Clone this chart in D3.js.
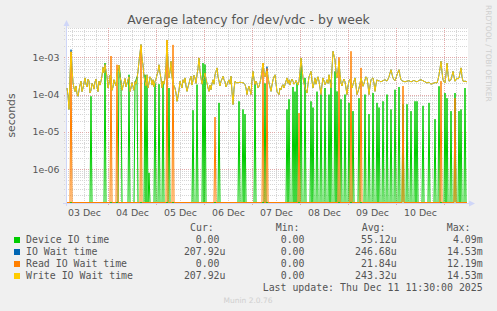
<!DOCTYPE html>
<html>
<head>
<meta charset="utf-8">
<script src="https://cdn.jsdelivr.net/npm/d3@7"></script>
<style>
  html, body { margin: 0; padding: 0; background: #f0f0f0; }
  svg { display: block; }
</style>
</head>
<body>
<svg id="chart" width="497" height="311"></svg>
<script>
// half-hourly averages in microseconds, 03 Dec 03:30 -> 11 Dec 11:30 (UTC), 401 samples
const deviceIO = [
  0, 0, 0, 0, 0, 0, 0, 0, 0, 0, 0, 0, 0, 0, 0, 0, 0, 0, 0, 0,
  0, 0, 0, 0, 90, 0, 0, 0, 0, 0, 0, 0, 0, 0, 0, 0, 0, 0, 700, 0,
  0, 0, 0, 0, 0, 0, 0, 0, 0, 0, 0, 0, 560, 380, 200, 0, 0, 0, 0, 0,
  0, 0, 340, 0, 0, 0, 0, 0, 200, 250, 300, 0, 0, 0, 0, 0, 0, 0, 340, 0,
  180, 0, 0.8, 0, 0, 0, 0, 0, 200, 0, 0, 0, 190, 0, 0, 0, 220, 0, 0, 0,
  0, 0, 150, 0, 0, 0, 0, 0, 0, 0, 0, 0, 0, 0, 0, 0, 0, 0, 0, 0,
  0, 0, 0, 0, 0, 0, 38, 0, 0, 0, 185, 0, 0, 0, 0, 0, 700, 0, 640, 0,
  0, 0, 0, 0, 0, 0, 0, 0, 0, 0, 0, 0, 60, 0, 0, 0, 0, 0, 0, 0,
  0, 0, 0, 0, 0, 0, 0, 0, 0, 0, 0, 0, 66, 0, 0, 0, 40, 0, 30, 0,
  0, 0, 0, 0, 0, 0, 0, 0, 200, 0, 0, 0, 0, 0, 0, 0, 0, 0, 200, 0,
  0, 0, 0, 0, 0, 0, 0, 0, 0, 0, 0, 0, 0, 0, 0, 0, 0, 0, 0, 0,
  40, 0, 75, 0, 0, 0, 160, 0, 120, 0, 200, 0, 0, 0, 700, 0, 0, 0, 280, 0,
  0, 0, 0, 0, 66, 0, 45, 0, 0, 0, 120, 0, 0, 0, 100, 0, 0, 0, 150, 0,
  0, 0, 100, 0, 250, 0, 0, 0, 420, 0, 122, 0, 0, 0, 75, 0, 0, 0, 100, 0,
  0, 0, 60, 0, 0, 0, 36, 0, 0, 0, 0, 0, 80, 0, 0, 0, 0, 0, 100, 0,
  0, 0, 30, 0, 0, 0, 110, 0, 0, 0, 60, 0, 45, 0, 0, 0, 66, 0, 0, 0,
  100, 0, 0, 0, 40, 0, 0, 0, 135, 0, 0, 0, 160, 0, 0, 0, 55, 0, 0, 0,
  55, 0, 0, 0, 36, 0, 0, 0, 66, 0, 66, 0, 0, 0, 0, 0, 50, 0, 0, 0,
  0, 0, 60, 0, 0, 0, 0, 0, 22, 0, 0, 0, 167, 0, 0, 0, 0, 0, 110, 0,
  80, 0, 0, 0, 36, 0, 0, 0, 110, 0, 0, 0, 36, 0, 40, 0, 0, 0, 150, 0,
  0
];

const ioWait = [
  150, 95, 40, 300, 1600, 520, 210, 150, 120, 170, 105, 90, 130, 180, 230, 120, 150, 210, 280, 190,
  160, 260, 230, 110, 130, 200, 180, 140, 220, 260, 160, 120, 230, 180, 230, 320, 540, 380, 640, 420,
  300, 150, 200, 330, 270, 130, 160, 250, 200, 170, 380, 450, 620, 300, 225, 130, 170, 210, 270, 160,
  200, 250, 300, 120, 150, 210, 165, 130, 225, 190, 270, 420, 780, 1300, 2200, 900, 630, 300, 225, 170,
  340, 150, 200, 300, 270, 180, 250, 160, 225, 260, 340, 420, 630, 380, 270, 150, 230, 190, 280, 600,
  2900, 700, 280, 420, 780, 300, 205, 170, 150, 110, 66, 90, 130, 230, 185, 150, 250, 210, 280, 170,
  122, 160, 200, 260, 310, 180, 240, 330, 280, 200, 340, 500, 960, 420, 280, 190, 250, 300, 380, 260,
  200, 150, 122, 180, 135, 200, 250, 190, 340, 420, 520, 300, 230, 170, 228, 260, 310, 250, 220, 160,
  185, 220, 250, 190, 310, 120, 54, 140, 228, 215, 205, 210, 210, 215, 213, 208, 210, 200, 185, 150,
  100, 140, 167, 130, 100, 250, 420, 260, 185, 230, 200, 150, 167, 210, 280, 450, 700, 420, 300, 380,
  560, 300, 205, 160, 122, 180, 250, 300, 340, 200, 120, 110, 100, 150, 135, 170, 185, 150, 185, 230,
  280, 200, 250, 180, 230, 260, 228, 190, 205, 240, 210, 180, 228, 400, 960, 500, 280, 200, 150, 130,
  110, 190, 300, 350, 420, 230, 150, 200, 280, 190, 250, 300, 228, 150, 100, 180, 280, 230, 185, 210,
  250, 200, 340, 220, 150, 500, 1450, 1100, 860, 400, 280, 450, 780, 350, 205, 170, 228, 260, 220, 150,
  100, 170, 228, 260, 200, 150, 185, 230, 280, 170, 100, 120, 150, 200, 280, 220, 167, 200, 250, 300,
  280, 180, 100, 170, 250, 270, 280, 200, 122, 190, 250, 230, 240, 225, 220, 230, 235, 245, 250, 240,
  230, 260, 300, 380, 465, 350, 280, 250, 235, 280, 340, 400, 465, 320, 250, 235, 228, 225, 220, 225,
  230, 232, 235, 228, 220, 225, 235, 240, 230, 225, 220, 230, 240, 245, 250, 242, 235, 228, 220, 212,
  205, 210, 215, 200, 190, 195, 200, 205, 210, 208, 205, 250, 340, 500, 780, 400, 250, 220, 205, 350,
  700, 350, 228, 240, 250, 320, 420, 300, 228, 250, 280, 260, 280, 380, 520, 300, 228, 225, 230, 225,
  220
];

const readWait = [
  0, 0, 0, 0, 1400, 0, 0, 0, 0, 0, 0, 0, 0, 0, 0, 0, 0, 0, 0, 0,
  0, 0, 0, 0, 0, 0, 0, 0, 0, 0, 0, 0, 0, 0, 0, 0, 0, 0, 0, 0,
  0, 0, 0, 0, 1080, 0, 0, 0, 0, 0, 630, 0, 0, 0, 0, 0, 0, 0, 0, 0,
  0, 0, 0, 0, 0, 0, 0, 0, 0, 0, 0, 0, 0, 0, 2000, 0, 0, 0, 0, 0,
  0, 0, 0, 0, 0, 0, 0, 0, 0, 0, 0, 0, 0, 0, 0, 0, 0, 0, 0, 0,
  2900, 0, 0, 0, 0, 0, 2150, 0, 0, 0, 0, 0, 0, 0, 0, 0, 0, 0, 0, 0,
  0, 0, 0, 0, 0, 0, 0, 0, 0, 0, 0, 0, 0, 0, 0, 0, 0, 0, 0, 0,
  0, 0, 0, 0, 0, 0, 0, 0, 25, 0, 0, 0, 0, 0, 0, 0, 0, 0, 0, 0,
  0, 0, 0, 0, 0, 0, 0, 0, 0, 0, 0, 0, 0, 0, 0, 0, 0, 0, 0, 0,
  0, 0, 0, 0, 0, 0, 0, 0, 0, 0, 0, 0, 0, 0, 0, 0, 700, 0, 0, 0,
  500, 0, 0, 0, 0, 0, 0, 0, 0, 0, 0, 0, 0, 0, 0, 0, 0, 0, 0, 0,
  0, 0, 0, 0, 0, 0, 0, 0, 0, 0, 0, 0, 32, 0, 0, 0, 0, 0, 0, 0,
  0, 0, 0, 0, 0, 0, 0, 0, 0, 0, 0, 0, 0, 0, 0, 0, 0, 0, 0, 0,
  0, 0, 0, 0, 0, 0, 0, 0, 0, 0, 0, 0, 1000, 0, 0, 0, 0, 0, 0, 0,
  0, 0, 0, 0, 1450, 0, 0, 0, 0, 0, 0, 0, 0, 0, 520, 0, 0, 0, 0, 0,
  0, 0, 0, 0, 0, 0, 0, 0, 0, 0, 0, 0, 0, 0, 0, 0, 0, 0, 0, 0,
  0, 0, 0, 0, 0, 0, 0, 0, 0, 0, 0, 0, 0, 0, 0, 0, 170, 0, 0, 0,
  0, 0, 0, 0, 0, 0, 0, 0, 0, 0, 0, 0, 0, 0, 0, 0, 0, 0, 0, 0,
  0, 0, 0, 0, 0, 0, 0, 0, 0, 0, 0, 0, 0, 0, 230, 0, 0, 0, 0, 0,
  0, 0, 0, 0, 0, 0, 0, 0, 80, 0, 0, 0, 0, 0, 0, 0, 0, 0, 0, 0,
  0
];

const writeWait = [
  150, 95, 40, 300, 1400, 520, 210, 150, 120, 170, 105, 90, 130, 180, 230, 120, 150, 210, 280, 190,
  160, 260, 230, 110, 130, 200, 180, 140, 220, 260, 160, 120, 230, 180, 230, 320, 540, 380, 640, 420,
  300, 150, 200, 330, 270, 130, 160, 250, 200, 170, 380, 450, 620, 300, 225, 130, 170, 210, 270, 160,
  200, 250, 300, 120, 150, 210, 165, 130, 225, 190, 270, 420, 780, 1300, 2200, 900, 630, 300, 225, 170,
  340, 150, 200, 300, 270, 180, 250, 160, 225, 260, 340, 420, 630, 380, 270, 150, 230, 190, 280, 600,
  2900, 700, 280, 420, 780, 300, 205, 170, 150, 110, 66, 90, 130, 230, 185, 150, 250, 210, 280, 170,
  122, 160, 200, 260, 310, 180, 240, 330, 280, 200, 340, 500, 960, 420, 280, 190, 250, 300, 380, 260,
  200, 150, 122, 180, 135, 200, 250, 190, 340, 420, 520, 300, 230, 170, 228, 260, 310, 250, 220, 160,
  185, 220, 250, 190, 310, 120, 54, 140, 228, 215, 205, 210, 210, 215, 213, 208, 210, 200, 185, 150,
  100, 140, 167, 130, 100, 250, 420, 260, 185, 230, 200, 150, 167, 210, 280, 450, 700, 420, 300, 380,
  430, 300, 205, 160, 122, 180, 250, 300, 340, 200, 120, 110, 100, 150, 135, 170, 185, 150, 185, 230,
  280, 200, 250, 180, 230, 260, 228, 190, 205, 240, 210, 180, 228, 400, 960, 500, 280, 200, 150, 130,
  110, 190, 300, 350, 420, 230, 150, 200, 280, 190, 250, 300, 228, 150, 100, 180, 280, 230, 185, 210,
  250, 200, 340, 220, 150, 500, 1450, 1100, 860, 400, 280, 450, 780, 350, 205, 170, 228, 260, 220, 150,
  100, 170, 228, 260, 200, 150, 185, 230, 280, 170, 100, 120, 150, 200, 280, 220, 167, 200, 250, 300,
  280, 180, 100, 170, 250, 270, 280, 200, 122, 190, 250, 230, 240, 225, 220, 230, 235, 245, 250, 240,
  230, 260, 300, 380, 465, 350, 280, 250, 235, 280, 340, 400, 465, 320, 250, 235, 228, 225, 220, 225,
  230, 232, 235, 228, 220, 225, 235, 240, 230, 225, 220, 230, 240, 245, 250, 242, 235, 228, 220, 212,
  205, 210, 215, 200, 190, 195, 200, 205, 210, 208, 205, 250, 340, 500, 780, 400, 250, 220, 205, 350,
  700, 350, 228, 240, 250, 320, 420, 300, 228, 250, 280, 260, 280, 380, 520, 300, 228, 225, 230, 225,
  220
];

const seriesNames  = ['Device IO time', 'IO Wait time', 'Read IO Wait time', 'Write IO Wait time'];
const seriesColors = ['#00cc00', '#0066b3', '#ff8000', '#ffcc00'];
const curVals = ['0.00', '207.92u', '0.00', '207.92u'];
const minVals = ['0.00', '0.00', '0.00', '0.00'];
const avgVals = ['55.12u', '246.68u', '21.84u', '243.32u'];
const maxVals = ['4.09m', '14.53m', '12.19m', '14.53m'];
const decadeTicks = [1e-3, 1e-4, 1e-5, 1e-6];

(function () {
  const svg = d3.select('#chart');
  const X0 = 67, X1 = 467, Y0 = 28, Y1 = 203;
  const t0 = new Date(Date.UTC(2025, 11, 3, 3, 30));
  const t1 = new Date(Date.UTC(2025, 11, 11, 11, 30));
  const tAt = i => new Date(t0.getTime() + i * 1800e3);

  const x = d3.scaleUtc().domain([t0, t1]).range([X0, X1]);
  const y = d3.scaleLog().domain([1.24e-7, 6.1e-3]).range([Y1, Y0]).clamp(true);

  // ── Canvas ───────────────────────────────────────────
  svg.append('rect').attr('x', X0).attr('y', Y0)
    .attr('width', X1 - X0 + 1).attr('height', Y1 - Y0)
    .attr('fill', '#ffffff');

  const minorCol = '#d6d6d6', majorCol = '#e2a9a9';

  // horizontal grid (log minors + decades)
  const hMinor = [];
  for (let e = -7; e <= -3; e++)
    for (let k = 2; k <= 9; k++) {
      const v = k * Math.pow(10, e);
      if (v > y.domain()[0] && v < y.domain()[1]) hMinor.push(v);
    }
  const grid = svg.append('g').attr('shape-rendering', 'crispEdges');
  const hy = v => Math.round(y(v)) + 0.5;

  grid.selectAll('.hmin').data(hMinor).join('line')
    .attr('x1', X0 - 3).attr('x2', X1 + 1)
    .attr('y1', hy).attr('y2', hy)
    .attr('stroke', minorCol).attr('stroke-dasharray', '1,1');
  grid.selectAll('.hmaj').data(decadeTicks).join('line')
    .attr('x1', X0 - 3).attr('x2', X1 + 1)
    .attr('y1', hy).attr('y2', hy)
    .attr('stroke', majorCol).attr('stroke-dasharray', '1,1');

  // vertical grid: 6h minors, midnight majors
  const vx = d => Math.round(x(d)) + 0.5;
  const vMinor = d3.utcHour.every(6).range(t0, t1).filter(d => d.getUTCHours() !== 0);
  const vMajor = d3.utcDay.range(t0, t1);
  grid.selectAll('.vmin').data(vMinor).join('line')
    .attr('x1', vx).attr('x2', vx).attr('y1', Y0).attr('y2', Y1)
    .attr('stroke', minorCol).attr('stroke-dasharray', '1,1');
  grid.selectAll('.vmaj').data(vMajor).join('line')
    .attr('x1', vx).attr('x2', vx).attr('y1', Y0).attr('y2', Y1 + 3)
    .attr('stroke', majorCol).attr('stroke-dasharray', '1,1');

  // ── Axes lines + arrows ──────────────────────────────
  const axCol = '#cfd6f8';
  svg.append('line').attr('x1', X0 - 0.5).attr('x2', X0 - 0.5).attr('y1', Y1 + 3).attr('y2', Y0 - 3)
    .attr('stroke', axCol);
  svg.append('line').attr('x1', X0 - 4).attr('x2', X1 + 2).attr('y1', Y1 + 0.5).attr('y2', Y1 + 0.5)
    .attr('stroke', axCol);
  svg.append('path').attr('d', `M${X0 - 3.5},${Y0 - 2}L${X0 + 2.5},${Y0 - 2}L${X0 - 0.5},${Y0 - 8}Z`).attr('fill', axCol);
  svg.append('path').attr('d', `M${X1 + 2},${Y1 - 2.5}L${X1 + 2},${Y1 + 3.5}L${X1 + 8},${Y1 + 0.5}Z`).attr('fill', axCol);

  // ── Series lines ─────────────────────────────────────
  const yv = v => v > 0 ? y(v * 1e-6) : Y1 - 0.5;
  const line = d3.line().x((d, i) => x(tAt(i))).y(d => yv(d));
  const allSeries = [deviceIO, ioWait, readWait, writeWait];
  svg.append('g').attr('fill', 'none')
    .selectAll('path').data(allSeries).join('path')
    .attr('d', line)
    .attr('stroke', (d, i) => seriesColors[i])
    .attr('stroke-width', 1)
    .attr('stroke-linejoin', 'round');

  // ── Tick labels ──────────────────────────────────────
  const fontAxis = 'DejaVu Sans';
  const txtCol = '#555';
  const yAxis = svg.append('g').attr('transform', 'translate(59.5,0)')
    .call(d3.axisLeft(y).tickValues(decadeTicks).tickSize(0).tickPadding(0)
      .tickFormat(d => '1e-' + String(Math.round(-Math.log10(d))).padStart(2, '0')));
  yAxis.select('.domain').remove();
  yAxis.selectAll('text').attr('font-family', fontAxis).attr('font-size', 9.4).attr('fill', txtCol);

  const noons = d3.utcDay.range(d3.utcDay.floor(t0), t1)
    .map(d => d3.utcHour.offset(d, 12))
    .filter(d => d < d3.utcHour.offset(t1, -6));
  const xAxis = svg.append('g').attr('transform', `translate(0,${Y1 + 6.3})`)
    .call(d3.axisBottom(x).tickValues(noons).tickSize(0).tickPadding(0).tickFormat(d3.utcFormat('%d %b')));
  xAxis.select('.domain').remove();
  xAxis.selectAll('text').attr('font-family', fontAxis).attr('font-size', 9.4).attr('fill', txtCol);

  // ── Titles ───────────────────────────────────────────
  svg.append('text').attr('x', 248.5).attr('y', 23.5).attr('text-anchor', 'middle')
    .attr('font-family', fontAxis).attr('font-size', 12.4).attr('fill', txtCol)
    .text('Average latency for /dev/vdc - by week');
  svg.append('text').attr('transform', 'translate(15,115.5) rotate(-90)').attr('text-anchor', 'middle')
    .attr('font-family', fontAxis).attr('font-size', 10.8).attr('fill', txtCol)
    .text('seconds');
  svg.append('text').attr('transform', 'translate(485.5,5) rotate(90)')
    .attr('font-family', fontAxis).attr('font-size', 7.5).attr('fill', '#cfcfcf')
    .text('RRDTOOL / TOBI OETIKER');

  // ── Legend ───────────────────────────────────────────
  const mono = 'DejaVu Sans Mono';
  const cw = 5.97;
  const leg = svg.append('g').attr('font-family', mono).attr('font-size', 9.9).attr('fill', txtCol);
  [['Cur:', 190], ['Min:', 275.7], ['Avg:', 361.7], ['Max:', 446.7]].forEach(([t, hx]) => {
    leg.append('text').attr('x', hx).attr('y', 231).text(t);
  });
  const colEdges = [225.5, 310.5, 396.7, 482.7];
  const rows = leg.selectAll('g.row').data(seriesNames).join('g')
    .attr('transform', (d, i) => `translate(0,${243 + i * 12})`);
  rows.append('rect').attr('x', 14).attr('y', -6).attr('width', 6).attr('height', 6)
    .attr('fill', (d, i) => seriesColors[i]);
  rows.append('text').attr('x', 26).attr('y', 0).text(d => d);
  [curVals, minVals, avgVals, maxVals].forEach((vals, c) => {
    rows.append('text')
      .attr('x', (d, i) => colEdges[c] - (/[a-z]$/.test(vals[i]) ? 0 : cw))
      .attr('y', 0).attr('text-anchor', 'end')
      .text((d, i) => vals[i]);
  });
  leg.append('text').attr('x', 482.7).attr('y', 291).attr('text-anchor', 'end')
    .text('Last update: Thu Dec 11 11:30:00 2025');

  svg.append('text').attr('x', 248).attr('y', 303).attr('text-anchor', 'middle')
    .attr('font-family', fontAxis).attr('font-size', 7.5).attr('fill', '#cfcfcf')
    .text('Munin 2.0.76');
})();
</script>
</body>
</html>
